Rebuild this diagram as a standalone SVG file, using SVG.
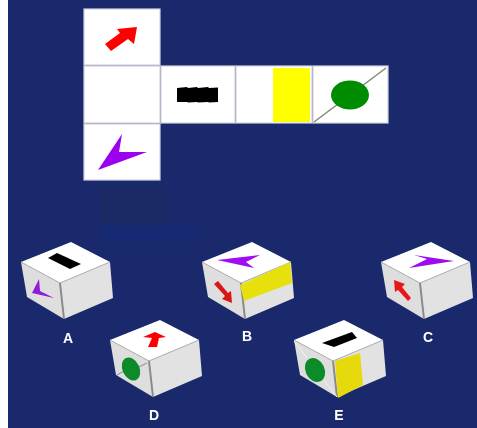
<svg xmlns="http://www.w3.org/2000/svg" width="477" height="428" viewBox="0 0 477 428">
<defs>
<filter id="soft" x="-5%" y="-5%" width="110%" height="110%"><feGaussianBlur stdDeviation="0.5"/></filter>
<g id="cube">
<path d="M0 20 L50 0 L89 20 L39 41 Z" fill="#fff"/>
<path d="M0 20 L39 41 L43 77 L6 55 Z" fill="#dedede"/>
<path d="M39 41 L89 20 L92 56 L43 77 Z" fill="#e2e2e2"/>
<path d="M0 20 L39 41 L89 20" fill="none" stroke="#b4b4b4" stroke-width="1"/>
<path d="M39 41 L43 77" fill="none" stroke="#8a8a8a" stroke-width="2"/>
</g>
</defs>
<style>
.face{fill:#fff;stroke:#d2d4dc;stroke-width:1.2}
.lab{font:bold 14px "Liberation Sans",Arial,sans-serif;fill:#fff;text-anchor:middle}
</style>
<rect width="477" height="428" fill="#fff"/>
<rect x="8" y="0" width="469" height="428" fill="#19296b"/>
<rect x="100" y="187" width="66" height="38" fill="#1b2a64"/>
<rect x="100" y="225" width="95" height="16" fill="#162a74"/>
<g filter="url(#soft)">
<g id="net-top"><rect class="face" x="84" y="9" width="76" height="56"/>
<path d="M137 27 L134 44 L128 39 L111 51 L105 44 L120 33 L117 29 Z" fill="#f00"/></g>
<g id="net-blank"><rect class="face" x="84" y="66" width="76" height="57"/></g>
<g id="net-black"><rect class="face" x="161" y="66" width="74" height="57"/>
<path d="M177 88 L187 87 L188 88 L197 87 L198 88 L208 87 L209 88 L218 87.500 L218 102 L209 102.500 L208 102 L198 102.500 L197 102 L188 102.500 L187 102 L177 102 Z" fill="#000"/></g>
<g id="net-yellow"><rect class="face" x="236" y="66" width="76" height="57"/>
<rect x="273" y="68" width="37" height="54" fill="#ff0"/></g>
<g id="net-green"><rect class="face" x="313" y="66" width="75" height="57"/>
<path d="M314 122 L386 68" stroke="#7a8f70" stroke-width="1.5"/>
<ellipse cx="350" cy="95" rx="19" ry="14.5" fill="#008c00"/></g>
<g id="net-bottom"><rect class="face" x="84" y="124" width="76" height="56"/>
<path d="M98 170 L122 134 L119 152 L147 152 Z" fill="#9b00ef"/></g>

<g id="cube-a"><use href="#cube" x="21" y="242"/>
<path d="M48 258 L57 253 L81 264 L70 269 Z" fill="#000"/>
<path d="M32 293 L39 279 L40 291 L54 298 Z" fill="#8e1fd8"/>
<text class="lab" x="68" y="343">A</text></g>

<g id="cube-b"><use href="#cube" x="202" y="242"/>
<path d="M217 260 L260 255 L246 262 L254 268 Z" fill="#a010f0"/>
<path d="M240 285 L290 262 L292 283 L244 301 Z" fill="#e6e010"/>
<path d="M214 284 L218 281 L228 293 L231 291 L232 303 L222 299 L225 296 Z" fill="#d81818"/>
<text class="lab" x="247" y="341">B</text></g>

<g id="cube-c"><use href="#cube" x="381" y="242"/>
<path d="M414 255 L454 261 L409 268 L427 259 Z" fill="#9b10ee"/>
<path d="M394 280 L405 284 L402 287 L411 298 L408 301 L398 290 L395 292 Z" fill="#e81818"/>
<text class="lab" x="428" y="342">C</text></g>

<g id="cube-d"><use href="#cube" x="110" y="320"/>
<path d="M155 332 L166 337 L159 338 L157 347 L148 347 L152 338 L143 337 Z" fill="#f00"/>
<path d="M117 375 L124 371 M135 369 L147 363" stroke="#8a8a8a" stroke-width="1" fill="none"/>
<ellipse cx="131" cy="369" rx="8.5" ry="12" transform="rotate(-25 131 369)" fill="#0a8a2a"/>
<text class="lab" x="154" y="420">D</text></g>

<g id="cube-e"><use href="#cube" x="294" y="320"/>
<path d="M322 343 L352 332 L357 338 L334 347 Z" fill="#000"/>
<path d="M335 361 L360 353 L363 385 L338 398 Z" fill="#e6da10"/>
<path d="M294 341 L307 358 M324 380 L337 397" stroke="#f4f4f4" stroke-width="1" fill="none"/>
<ellipse cx="315" cy="370" rx="9.5" ry="12.5" transform="rotate(-25 315 370)" fill="#0a8a2a"/>
<text class="lab" x="339" y="420">E</text></g>
</g>
</svg>
